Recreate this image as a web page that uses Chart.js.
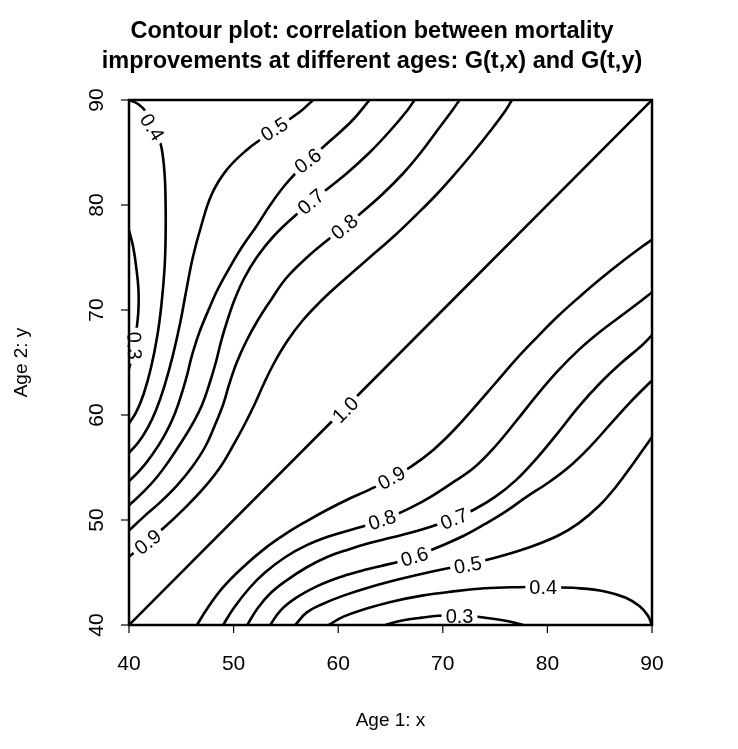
<!DOCTYPE html>
<html>
<head>
<meta charset="utf-8">
<script src="https://cdn.jsdelivr.net/npm/chart.js@4.4.0/dist/chart.umd.min.js"></script>
<style>
  body { margin: 0; background: #fff; }
  #wrap { width: 738px; height: 749px; position: relative; }
</style>
</head>
<body>
<div id="wrap"><canvas id="contour"></canvas></div>
<script>
// tick labels
const xTicks = [40, 50, 60, 70, 80, 90];
const yTicks = [40, 50, 60, 70, 80, 90];

// contour lines, [age x, age y]
// lower right half
const c10 = [[40,40],[90,90]];
const c09Low = [[46.5,40],[47.5,41.6],[49,43.6],[51,45.6],[53,47.3],[55,48.7],[57,49.9],[59,51.0],[61,52.0],[63,52.9],[65,53.9],[67,55.1],[69,56.6],[71,58.5],[73,60.7],[75,63.0],[77,65.3],[79,67.4],[81,69.4],[83,71.2],[85,72.9],[87,74.5],[89,76.0],[90,76.7]];
const c08Low = [[49,40],[50,41.6],[51.5,43.5],[53,45.0],[55,46.5],[57,47.6],[59,48.4],[61,49.0],[63,49.6],[65,50.3],[67,51.2],[69,52.3],[71,53.6],[73,55.0],[75,57.0],[77,59.4],[79,61.9],[81,64.2],[83,66.2],[85,67.9],[87,69.4],[89,70.9],[90,71.7]];
const c07Low = [[51.3,40],[52.3,41.6],[53.5,43.0],[55,44.2],[57,45.5],[59,46.5],[61,47.2],[63,47.8],[65,48.3],[67,48.8],[69,49.4],[71,50.1],[73,51.0],[75,52.2],[77,53.8],[79,55.9],[81,58.3],[83,60.8],[85,63.0],[87,64.9],[89,66.6],[90,67.6]];
const c06Low = [[53.5,40],[54.5,41.4],[56,42.6],[58,43.7],[60,44.5],[62,45.1],[64,45.6],[66,46.1],[68,46.8],[70,47.6],[72,48.5],[74,49.6],[76,50.8],[78,52.2],[80,53.5],[82,55.0],[84,56.9],[86,59.1],[88,61.3],[90,63.3]];
const c05Low = [[55.9,40],[57,41.2],[58.5,42.0],[60.5,42.8],[63,43.6],[66,44.4],[69,45.1],[72,45.7],[75,46.4],[78,47.3],[81,48.5],[83,49.7],[85,51.4],[86.5,53.1],[88,55.1],[89,56.5],[90,57.9]];
const c04Low = [[59.1,40],[60.5,40.8],[62.5,41.5],[65,42.2],[68,42.8],[71,43.2],[74,43.5],[77,43.6],[80,43.6],[83,43.5],[85.5,43.2],[87.5,42.6],[88.8,41.8],[89.6,40.9],[90,40]];
const c03Low = [[64.5,40],[66,40.4],[68,40.7],[70,40.9],[72,40.9],[74,40.7],[76,40.4],[77.7,40]];
// upper left half
const c09Up = [[40,46.5],[41.6,47.8],[43.6,49.5],[45.5,51.3],[47.2,53.1],[48.7,55],[49.9,57],[51.0,59],[52.0,61],[52.9,63],[53.9,65],[55.1,67],[56.6,69],[58.5,71],[60.7,73],[63.0,75],[65.3,77],[67.4,79],[69.4,81],[71.2,83],[72.9,85],[74.5,87],[76.0,89],[76.6,90]];
const c08Up = [[40,49],[41.4,50.3],[43.0,51.7],[44.6,53.3],[46.0,55],[47.3,57],[48.2,59],[49.0,61],[49.6,63],[50.3,65],[51.2,67],[52.3,69],[53.6,71],[55.0,73],[57.0,75],[59.4,77],[61.9,79],[64.2,81],[66.2,83],[67.9,85],[69.4,87],[70.9,89],[71.6,90]];
const c07Up = [[40,51.4],[41.3,52.6],[42.6,54.0],[43.8,55.6],[45.0,57.4],[46.1,59.2],[47.0,61],[47.7,63],[48.3,65],[48.8,67],[49.4,69],[50.1,71],[51.0,73],[52.2,75],[53.8,77],[55.9,79],[58.3,81],[60.8,83],[63.0,85],[64.9,87],[66.6,89],[67.3,90]];
const c06Up = [[40,53.7],[41.1,54.8],[42.2,56.2],[43.3,57.9],[44.2,59.7],[44.9,61.6],[45.5,63.6],[46.0,65.6],[46.7,67.8],[47.6,70],[48.5,72],[49.6,74],[50.8,76],[52.2,78],[53.5,80],[55.0,82],[56.9,84],[59.1,86],[61.3,88],[63.0,90]];
const c05Up = [[40,56.4],[40.9,57.4],[41.8,58.8],[42.6,60.5],[43.4,62.8],[44.2,65.7],[44.9,68.8],[45.5,72],[46.1,75],[46.9,78],[47.9,81],[49.3,83.3],[51.2,85.2],[53.1,86.6],[55.1,88],[56.5,89],[57.6,90]];
const c04Up = [[40,59.2],[40.7,60.3],[41.4,62],[42.1,64.5],[42.7,67.5],[43.1,70.5],[43.4,74],[43.5,77],[43.5,80],[43.4,83],[43.1,85.5],[42.5,87.5],[41.7,88.8],[40.9,89.6],[40,90]];
const c03Up = [[40,64.4],[40.4,66],[40.7,68],[40.9,70],[40.9,72],[40.7,74],[40.4,76],[40,77.6]];

const contours = [c10, c09Low, c08Low, c07Low, c06Low, c05Low, c04Low, c03Low,
                  c09Up, c08Up, c07Up, c06Up, c05Up, c04Up, c03Up];

// where the level labels sit on the lines (angle in degrees, clockwise)
const labelSpots = [
  { text: '1.0', x: 60.7, y: 60.5, angle: -45 },
  { text: '0.9', x: 65.1, y: 54.0, angle: -29 },
  { text: '0.8', x: 64.2, y: 50.0, angle: -18 },
  { text: '0.7', x: 71.1, y: 50.1, angle: -22 },
  { text: '0.6', x: 67.3, y: 46.5, angle: -17 },
  { text: '0.5', x: 72.4, y: 45.7, angle: -10 },
  { text: '0.4', x: 79.6, y: 43.6, angle: 0 },
  { text: '0.3', x: 71.6, y: 40.8, angle: 0 },
  { text: '0.9', x: 41.8, y: 47.9, angle: -38 },
  { text: '0.8', x: 60.6, y: 77.9, angle: -39 },
  { text: '0.7', x: 57.4, y: 80.3, angle: -40 },
  { text: '0.6', x: 57.1, y: 84.2, angle: -37 },
  { text: '0.5', x: 53.9, y: 87.2, angle: -32 },
  { text: '0.4', x: 42.2, y: 87.4, angle: 58 },
  { text: '0.3', x: 40.5, y: 66.6, angle: 88 }
];

const FONT = '"Liberation Sans", Arial, Helvetica, sans-serif';

// R style box, ticks, titles and contour labels
const rPlot = {
  id: 'rPlot',
  afterDatasetsDraw(chart) {
    const { ctx, scales: { x, y } } = chart;
    ctx.save();
    ctx.font = '20px ' + FONT;
    ctx.textAlign = 'center';
    ctx.textBaseline = 'middle';
    labelSpots.forEach(l => {
      ctx.save();
      ctx.translate(x.getPixelForValue(l.x), y.getPixelForValue(l.y));
      ctx.rotate(l.angle * Math.PI / 180);
      const w = ctx.measureText(l.text).width;
      ctx.fillStyle = '#fff';
      ctx.fillRect(-w / 2 - 4, -10, w + 8, 20);
      ctx.fillStyle = '#000';
      ctx.fillText(l.text, 0, 1);
      ctx.restore();
    });
    ctx.restore();
  },
  afterDraw(chart) {
    const { ctx, chartArea: a, scales: { x, y } } = chart;
    ctx.save();
    ctx.strokeStyle = '#000';
    ctx.fillStyle = '#000';
    ctx.lineWidth = 2.5;
    ctx.strokeRect(a.left, a.top, a.right - a.left, a.bottom - a.top);

    ctx.lineWidth = 1.2;
    ctx.font = '21px ' + FONT;
    ctx.textAlign = 'center';
    ctx.textBaseline = 'middle';
    xTicks.forEach(v => {
      const px = x.getPixelForValue(v);
      ctx.beginPath();
      ctx.moveTo(px, a.bottom);
      ctx.lineTo(px, a.bottom + 8);
      ctx.stroke();
      ctx.fillText(String(v), px, 664);
    });
    yTicks.forEach(v => {
      const py = y.getPixelForValue(v);
      ctx.beginPath();
      ctx.moveTo(a.left, py);
      ctx.lineTo(a.left - 8, py);
      ctx.stroke();
      ctx.save();
      ctx.translate(97, py);
      ctx.rotate(-Math.PI / 2);
      ctx.fillText(String(v), 0, 0);
      ctx.restore();
    });

    ctx.font = '19px ' + FONT;
    ctx.fillText('Age 1: x', (a.left + a.right) / 2, 721);
    ctx.save();
    ctx.translate(22, (a.top + a.bottom) / 2);
    ctx.rotate(-Math.PI / 2);
    ctx.fillText('Age 2: y', 0, 0);
    ctx.restore();

    ctx.font = 'bold 23.5px ' + FONT;
    ctx.fillText('Contour plot: correlation between mortality', 372, 32);
    ctx.fillText('improvements at different ages: G(t,x) and G(t,y)', 372, 62);
    ctx.restore();
  }
};

new Chart(document.getElementById('contour'), {
  type: 'scatter',
  data: {
    datasets: contours.map(c => ({
      data: c.map(p => ({ x: p[0], y: p[1] })),
      showLine: true,
      borderColor: '#000',
      borderWidth: 2.6,
      pointRadius: 0,
      tension: 0.4,
      fill: false
    }))
  },
  options: {
    responsive: true,
    maintainAspectRatio: false,
    animation: false,
    layout: { padding: { left: 129, right: 86, top: 100, bottom: 124 } },
    plugins: { legend: { display: false }, tooltip: { enabled: false }, title: { display: false } },
    scales: {
      x: { type: 'linear', min: 40, max: 90, display: false },
      y: { type: 'linear', min: 40, max: 90, display: false }
    }
  },
  plugins: [rPlot]
});
</script>
</body>
</html>
